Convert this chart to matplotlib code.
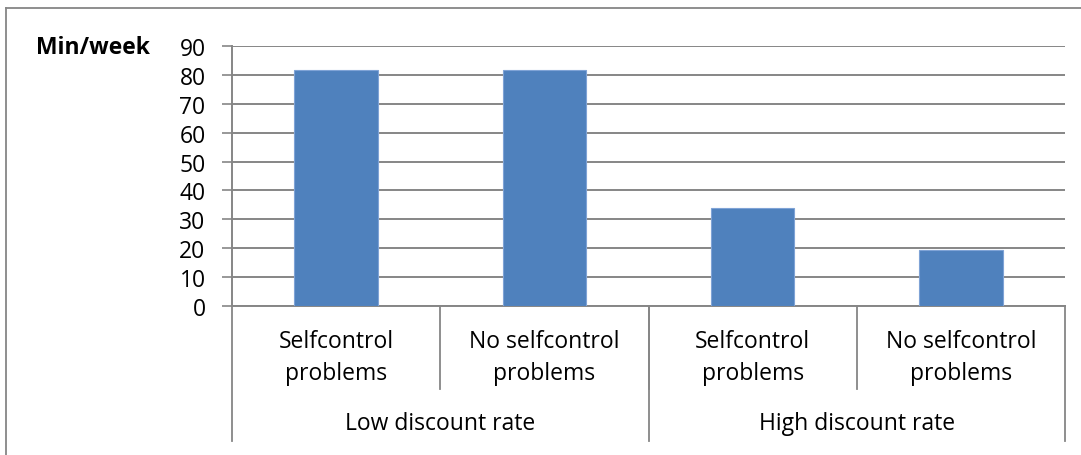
import matplotlib
matplotlib.use("Agg")
import matplotlib.pyplot as plt
from matplotlib.lines import Line2D
import matplotlib.transforms as mtransforms

# data
sub_labels = ["Selfcontrol\nproblems", "No selfcontrol\nproblems",
              "Selfcontrol\nproblems", "No selfcontrol\nproblems"]
group_labels = ["Low discount rate", "High discount rate"]
group_sizes = [2, 2]
minutes = [81.8, 81.6, 33.8, 19.3]
y_ticks = list(range(0, 100, 10))

W, H = 1081, 456
grey = "#868686"
fs = 16.5
plt.rcParams["font.family"] = ["Open Sans", "DejaVu Sans"]

fig = plt.figure(figsize=(W / 100, H / 100), dpi=100)
ax = fig.add_axes([232 / W, (H - 307) / H, (1065 - 232) / W, 260 / H])

x = range(len(minutes))
ax.bar(x, minutes, width=0.4, color="#4F81BD", edgecolor="#7FA3D6",
       linewidth=0.8, zorder=3)

ax.set_xlim(-0.5, len(minutes) - 0.5)
ax.set_ylim(0, 90)
ax.set_yticks(y_ticks)
ax.tick_params(axis="y", length=7, width=1.2, color=grey, labelsize=fs, pad=12)
ax.tick_params(axis="x", length=0, labelbottom=False)
ax.yaxis.grid(True, color=grey, linewidth=1.4, zorder=0)
for s in ["top", "right"]:
    ax.spines[s].set_visible(False)
for s in ["left", "bottom"]:
    ax.spines[s].set_color(grey)
    ax.spines[s].set_linewidth(1.4)

# multi-level category axis
trans = mtransforms.blended_transform_factory(ax.transData, ax.transAxes)
sub_bottom = -83 / 260
grp_bottom = -135 / 260
for i in range(1, len(minutes)):
    ax.add_line(Line2D([i - 0.5, i - 0.5], [0, sub_bottom], transform=trans,
                       color=grey, lw=1.3, clip_on=False))
for i, lab in enumerate(sub_labels):
    ax.text(i, -51 / 260, lab, transform=trans, ha="center", va="center",
            fontsize=fs, linespacing=1.45)

start = 0
bounds = [-0.5]
for g, n in zip(group_labels, group_sizes):
    mid = start + (n - 1) / 2
    ax.text(mid, -117 / 260, g, transform=trans, ha="center", va="center",
            fontsize=fs)
    start += n
    bounds.append(start - 0.5)
for b in bounds:
    ax.add_line(Line2D([b, b], [0, grp_bottom], transform=trans,
                       color=grey, lw=1.3, clip_on=False))

fig.text(93 / W, 1 - 48 / H, "Min/week", ha="center", va="center",
         fontsize=fs, fontweight="bold")

# chart frame (only top and left edges visible in the crop)
fig.add_artist(Line2D([6 / W, 1.0], [1 - 9 / H, 1 - 9 / H],
                      transform=fig.transFigure, color=grey, lw=1.3))
fig.add_artist(Line2D([6 / W, 6 / W], [0, 1 - 9 / H],
                      transform=fig.transFigure, color=grey, lw=1.3))

fig.savefig("out.png", dpi=100)
